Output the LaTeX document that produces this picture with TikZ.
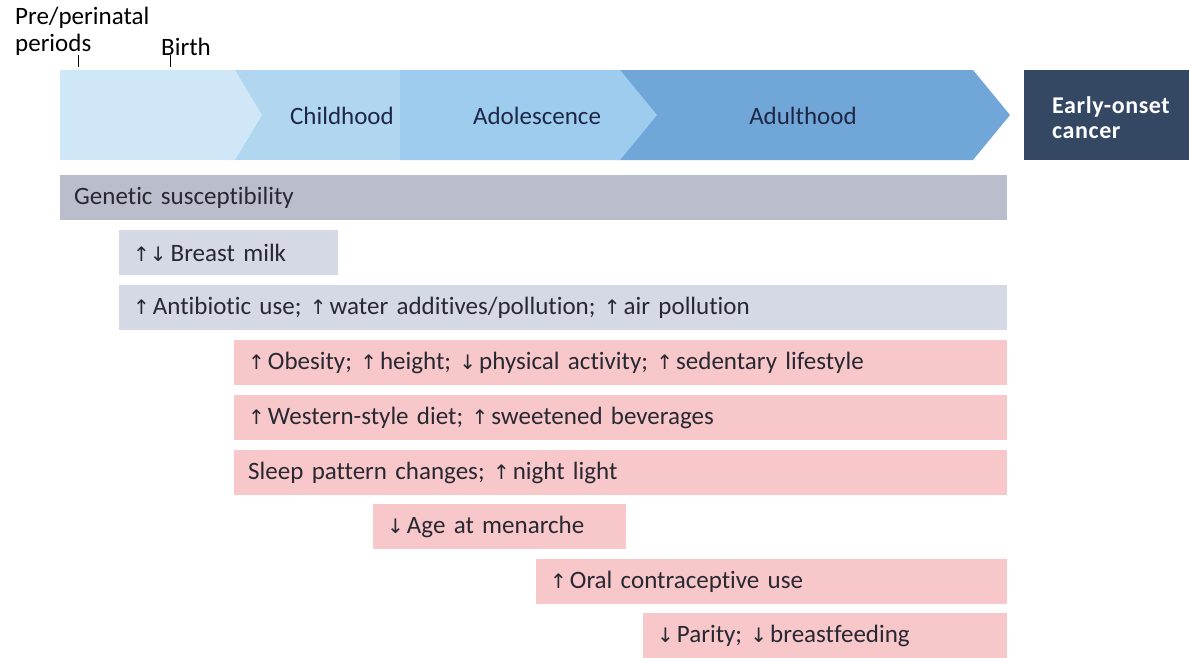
\documentclass[tikz,border=0pt]{standalone}
\usepackage{fontspec}
\usepackage{xcolor}
\setmainfont{Carlito}[Ligatures=NoCommon]
\newfontfamily\arrowfont{DejaVu Sans}
\newcommand{\incr}{{\arrowfont\fontsize{20}{23}\selectfont\char"2191}}
\newcommand{\decr}{{\arrowfont\fontsize{20}{23}\selectfont\char"2193}}
\newcommand{\up}{\incr\hspace{3pt}}
\newcommand{\dn}{\decr\hspace{3pt}}
\frenchspacing

\definecolor{perinatal}{RGB}{207,231,247}
\definecolor{child}{RGB}{176,214,240}
\definecolor{adolesc}{RGB}{158,204,238}
\definecolor{adult}{RGB}{112,166,216}
\definecolor{cancer}{RGB}{52,72,100}
\definecolor{genegrey}{RGB}{186,189,204}
\definecolor{envgrey}{RGB}{213,217,229}
\definecolor{lifepink}{RGB}{247,199,201}
\definecolor{stagetext}{RGB}{30,40,70}
\definecolor{bartext}{RGB}{40,40,50}

\begin{document}
\begin{tikzpicture}[x=1pt, y=-1pt,
  every node/.style={font=\fontsize{25}{27}\selectfont, inner sep=0pt},
  bar/.style={anchor=north west, minimum height=45pt, text width=#1, text=bartext, align=left, inner xsep=14pt},
  stage/.style={text=stagetext}]
\useasboundingbox (0,0) rectangle (1189,657);

% Band
\fill[adult] (620,70) -- (973,70) -- (1010,115) -- (973,160) -- (620,160) -- cycle;
\fill[adolesc] (400,70) -- (620,70) -- (657,115) -- (620,160) -- (400,160) -- cycle;
\fill[child] (235,70) -- (400,70) -- (400,160) -- (235,160) -- cycle;
\fill[perinatal] (60,70) -- (235,70) -- (262,115) -- (235,160) -- (60,160) -- cycle;
\fill[cancer] (1024,70) rectangle (1189,160);

% Stages
\node[stage] (childhood) at (342,116) {Childhood};
\node[stage] (adolescence) at (537,116) {Adolescence};
\node[stage] (adulthood) at (803,116) {Adulthood};
\node[anchor=west, text=white, align=left, font=\fontsize{24}{25}\selectfont\bfseries\addfontfeatures{LetterSpace=2.5}] (cancer) at (1052,118) {Early-onset\\cancer};

% Time points
\node[anchor=south west, align=left] (peri) at (15,56) {Pre/perinatal\\periods};
\node[anchor=south west] (birth) at (161,56) {Birth};
\coordinate (periTick) at (78,67);
\coordinate (birthTick) at (170,67);
\draw[line width=1pt] (78,55) -- (periTick);
\draw[line width=1pt] (170,55) -- (birthTick);

% Risk factors
\node[bar=919pt, fill=genegrey] (genetic) at (60,175) {Genetic susceptibility};
\node[bar=191pt, fill=envgrey] (milk) at (119,230) {\incr\decr\hspace{4pt}Breast milk};
\node[bar=860pt, fill=envgrey] (antibiotic) at (119,285) {\up Antibiotic use; \up water additives/pollution; \up air pollution};
\node[bar=745pt, fill=lifepink] (obesity) at (234,340) {\up Obesity; \up height; \dn physical activity; \up sedentary lifestyle};
\node[bar=745pt, fill=lifepink] (diet) at (234,395) {\up Western-style diet; \up sweetened beverages};
\node[bar=745pt, fill=lifepink] (sleep) at (234,450) {Sleep pattern changes; \up night light};
\node[bar=225pt, fill=lifepink] (menarche) at (373,504) {\dn Age at menarche};
\node[bar=443pt, fill=lifepink] (contraceptive) at (536,559) {\up Oral contraceptive use};
\node[bar=336pt, fill=lifepink] (parity) at (643,613) {\dn Parity; \dn breastfeeding};
\end{tikzpicture}
\end{document}
